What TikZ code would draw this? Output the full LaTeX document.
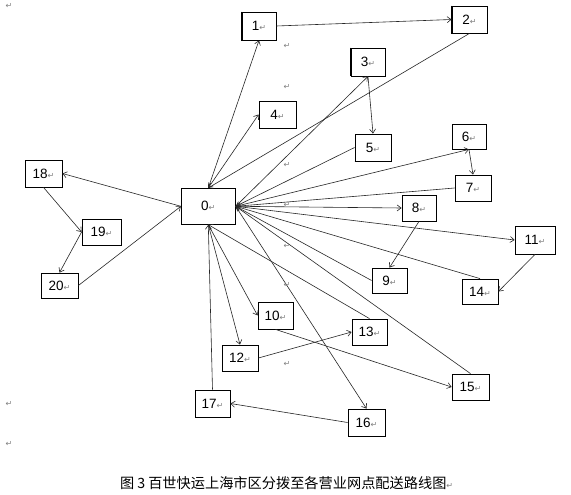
\documentclass[tikz,border=0pt]{standalone}
\usepackage{fontspec}
\setmainfont{Liberation Sans}
\newfontfamily\dejavu{DejaVu Sans}
\newfontfamily\cjk{Noto Sans CJK SC}
\usetikzlibrary{arrows.meta}
\newcommand\parmk{{\dejavu\fontsize{8}{8}\selectfont\textcolor{black!50}{↵}}}
\begin{document}
\begin{tikzpicture}[x=1pt,y=-1pt,
  box/.style={draw=black,line width=0.8pt,inner sep=0pt,fill=white,font=\fontsize{13.5}{13.5}\selectfont},
  conn/.style={draw=black!85,line width=0.6pt},
  arr/.style={conn,-{Straight Barb[length=4pt,width=6pt]}},
  darr/.style={conn,{Straight Barb[length=4pt,width=6pt]}-{Straight Barb[length=4pt,width=6pt]}},
  pm/.style={inner sep=0pt},
]
\useasboundingbox[fill=white] (0,0) rectangle (571,495);

% boxes
\node[box,minimum width=54pt,minimum height=36pt] (n0) at (208.3,206.3) {0\parmk};
\node[box,minimum width=34pt,minimum height=28pt] (n1) at (259,26) {1\parmk};
\node[box,minimum width=35pt,minimum height=27pt] (n2) at (469.5,19.5) {2\parmk};
\node[box,minimum width=34pt,minimum height=28pt] (n3) at (368,62) {3\parmk};
\node[box,minimum width=37pt,minimum height=27pt] (n4) at (277.5,114.5) {4\parmk};
\node[box,minimum width=36pt,minimum height=27pt] (n5) at (373,147.5) {5\parmk};
\node[box,minimum width=34pt,minimum height=25pt] (n6) at (469,136.5) {6\parmk};
\node[box,minimum width=36pt,minimum height=26pt] (n7) at (473,188) {7\parmk};
\node[box,minimum width=34pt,minimum height=26pt] (n8) at (419,208) {8\parmk};
\node[box,minimum width=35pt,minimum height=25pt] (n9) at (389.5,280.5) {9\parmk};
\node[box,minimum width=35pt,minimum height=27pt] (n10) at (275.5,315.5) {10\parmk};
\node[box,minimum width=40pt,minimum height=28pt] (n11) at (535,240) {11\parmk};
\node[box,minimum width=36pt,minimum height=26pt] (n12) at (240,358) {12\parmk};
\node[box,minimum width=35pt,minimum height=26pt] (n13) at (369.5,332) {13\parmk};
\node[box,minimum width=36pt,minimum height=25pt] (n14) at (480,291.5) {14\parmk};
\node[box,minimum width=37pt,minimum height=26pt] (n15) at (470.5,387) {15\parmk};
\node[box,minimum width=37pt,minimum height=27pt] (n16) at (366.5,422.5) {16\parmk};
\node[box,minimum width=35pt,minimum height=27pt] (n17) at (212.5,403.5) {17\parmk};
\node[box,minimum width=37pt,minimum height=27pt] (n18) at (43.5,173.5) {18\parmk};
\node[box,minimum width=39pt,minimum height=26pt] (n19) at (101.5,232) {19\parmk};
\node[box,minimum width=37pt,minimum height=25pt] (n20) at (59.5,285.5) {20\parmk};

% heavier edges on some boxes
\draw[line width=1.6pt] (n1.north west) -- (n1.south west) -- (n1.south east);
\draw[line width=1.6pt] (n2.north west) -- (n2.south west) -- (n2.south east);
\draw[line width=1.6pt] (n3.north west) -- (n3.south west);
\draw[line width=1.6pt] (n5.south west) -- (n5.south east);

% connectors
\draw[arr] (n0.north) -- (n1.south);
\draw[arr] (n1.east) -- (n2.west);
\draw[arr] (n2.south) -- (n0.north);
\draw[darr] (n0.north) -- (n4.west);
\draw[arr] (n0.east) -- (n3.south);
\draw[arr] (n3.south) -- (n5.north);
\draw[arr] (n5.west) -- (n0.east);
\draw[arr] (n0.east) -- (n6.south);
\draw[arr] (n6.south) -- (n7.north);
\draw[arr] (n7.west) -- (n0.east);
\draw[arr] (n0.east) -- (n8.west);
\draw[arr] (n8.south) -- (n9.north);
\draw[arr] (n9.west) -- (n0.east);
\draw[arr] (n0.east) -- (n11.west);
\draw[arr] (n11.south) -- (n14.east);
\draw[arr] (n14.north) -- (n0.east);
\draw[arr] (n0.south) -- (n10.west);
\draw[arr] (n10.south) -- (n15.west);
\draw[arr] (n15.north) -- (n0.east);
\draw[arr] (n0.south) -- (n12.north);
\draw[arr] (n12.east) -- (n13.west);
\draw[arr] (n13.north) -- (n0.south);
\draw[arr] (n0.east) -- (n16.north);
\draw[arr] (n16.west) -- (n17.east);
\draw[arr] (n17.north) -- (n0.south);
\draw[arr] (n0.west) -- (n18.east);
\draw[arr] (n18.south) -- (n19.west);
\draw[arr] (n19.west) -- (n20.north);
\draw[arr] (n20.east) -- (n0.west);

% stray paragraph marks
\node[pm] (m1) at (9,6) {\parmk};
\node[pm] (m2) at (287,46) {\parmk};
\node[pm] (m3) at (287,87) {\parmk};
\node[pm] (m4) at (287,165) {\parmk};
\node[pm] (m5) at (287,205) {\parmk};
\node[pm] (m6) at (287,246) {\parmk};
\node[pm] (m7) at (287,285) {\parmk};
\node[pm] (m8) at (287,364) {\parmk};
\node[pm] (m9) at (9,404) {\parmk};
\node[pm] (m10) at (9,444) {\parmk};

% caption
\node[anchor=west,inner sep=0pt,font=\cjk\fontsize{14.2}{14.2}\selectfont] (caption) at (120,483) {图\hspace{3pt}3\hspace{3pt}百世快运上海市区分拨至各营业网点配送路线图\parmk};
\end{tikzpicture}
\end{document}
